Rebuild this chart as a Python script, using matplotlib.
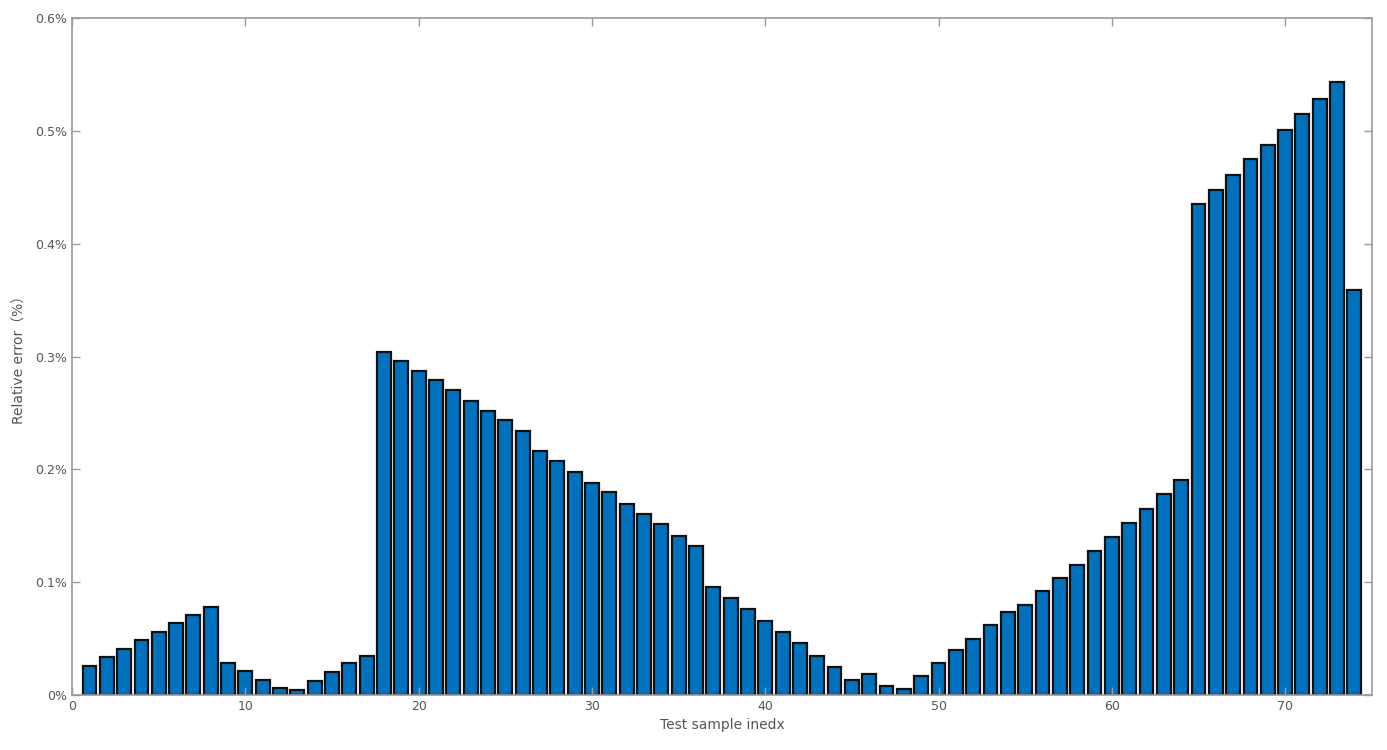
import matplotlib
matplotlib.use("Agg")
import matplotlib.pyplot as plt
from matplotlib.ticker import FuncFormatter

# relative error per test sample, in percent
errors_pct = [
    0.026, 0.034, 0.041, 0.049, 0.056, 0.064, 0.071, 0.078, 0.028, 0.021,
    0.013, 0.006, 0.0045, 0.0127, 0.020, 0.028, 0.035, 0.304, 0.296, 0.287,
    0.279, 0.270, 0.261, 0.252, 0.2435, 0.234, 0.2166, 0.2074, 0.1977, 0.188,
    0.1797, 0.1696, 0.1607, 0.1513, 0.1412, 0.132, 0.0955, 0.0863, 0.076, 0.0659,
    0.0556, 0.0458, 0.0349, 0.0248, 0.0136, 0.0183, 0.008, 0.0053, 0.0166, 0.028,
    0.0396, 0.050, 0.062, 0.0736, 0.0795, 0.0922, 0.1034, 0.1155, 0.1277, 0.1398,
    0.1527, 0.1646, 0.1785, 0.1906, 0.4355, 0.448, 0.461, 0.4746, 0.4875, 0.501,
    0.515, 0.528, 0.543, 0.3586,
]
sample_idx = list(range(1, len(errors_pct) + 1))
errors = [e / 100 for e in errors_pct]

x_ticks = [0, 10, 20, 30, 40, 50, 60, 70]
y_ticks = [0, 0.001, 0.002, 0.003, 0.004, 0.005, 0.006]

axis_grey = "#9a9a9a"
label_grey = "#555555"

fig = plt.figure(figsize=(13.87, 7.5), dpi=100)
ax = fig.add_axes([0.052, 0.0733, 0.937, 0.9027])

ax.bar(sample_idx, errors, width=0.8, color="#0072BD",
       edgecolor="#111111", linewidth=1.6)

ax.set_xlim(0, 75)
ax.set_ylim(0, 0.006)
ax.set_xticks(x_ticks)
ax.set_yticks(y_ticks)
ax.yaxis.set_major_formatter(FuncFormatter(lambda v, p: f"{v * 100:.1f}%".replace("0.0%", "0%")))

for s in ax.spines.values():
    s.set_color(axis_grey)
    s.set_linewidth(1.2)
ax.tick_params(direction="in", top=True, right=True, length=6, width=1,
               color=axis_grey, labelcolor=label_grey, labelsize=9)

ax.set_xlabel("Test sample inedx", color=label_grey, fontsize=10, labelpad=4)
ax.set_ylabel("Relative error（%）", color=label_grey, fontsize=10,
              family=["DejaVu Sans", "Noto Sans CJK SC"], labelpad=6)

fig.savefig("out.png", dpi=100)
